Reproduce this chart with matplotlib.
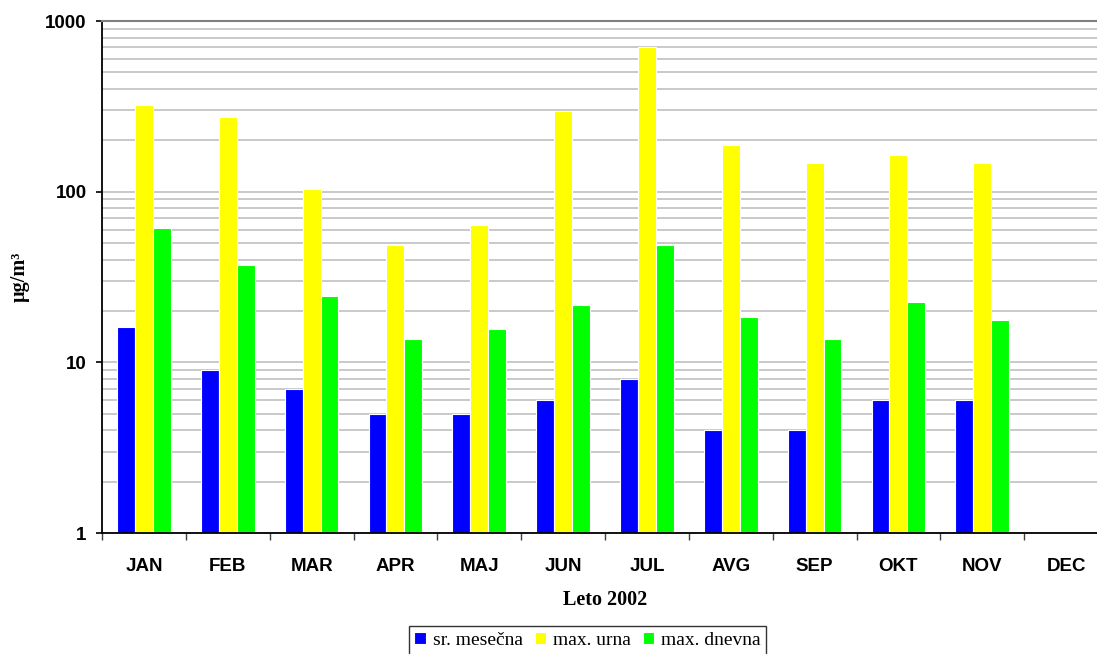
import numpy as np
import matplotlib
matplotlib.use("Agg")
import matplotlib.pyplot as plt
from matplotlib.ticker import FixedLocator, LogLocator, NullFormatter

months = ["JAN", "FEB", "MAR", "APR", "MAJ", "JUN", "JUL", "AVG", "SEP", "OKT", "NOV", "DEC"]
# DEC has no measurements
sr_mesecna = [16, 9, 7, 5, 5, 6, 8, 4, 4, 6, 6]
max_urna = [320, 275, 104, 49, 64, 296, 700, 188, 148, 163, 147]
max_dnevna = [61, 37, 24.5, 13.7, 15.7, 21.6, 49, 18.4, 13.7, 22.5, 17.7]

series = [
    ("sr. mesečna", sr_mesecna, "#0000ff"),
    ("max. urna", max_urna, "#ffff00"),
    ("max. dnevna", max_dnevna, "#00ff00"),
]

W, H = 1097, 654
fig = plt.figure(figsize=(W / 100, H / 100), dpi=100)
ax = fig.add_axes([102 / W, 1 - 533 / H, 1006 / W, 512 / H])

bar_w = 0.213
x = np.arange(len(sr_mesecna)) + 0.5
handles = []
for k, (name, vals, col) in enumerate(series):
    b = ax.bar(x + (k - 1) * bar_w, vals, width=bar_w, color=col,
               edgecolor="white", linewidth=0.8, label=name, zorder=2)
    handles.append(b)

ax.set_yscale("log")
ax.set_ylim(1, 1000)
ax.set_xlim(0, len(months))

ax.yaxis.set_major_locator(FixedLocator([1, 10, 100, 1000]))
ax.yaxis.set_major_formatter(plt.FuncFormatter(lambda v, p: f"{int(v)}"))
ax.yaxis.set_minor_locator(LogLocator(base=10, subs=np.arange(2, 10)))
ax.yaxis.set_minor_formatter(NullFormatter())
ax.grid(True, axis="y", which="both", color="#c0c0c0", linewidth=1.2, zorder=0)
ax.set_axisbelow(True)

# month labels at centers, tick marks at the boundaries
ax.set_xticks(np.arange(len(months)) + 0.5)
ax.set_xticklabels(months)
ax.set_xticks(np.arange(len(months) + 1), minor=True)
ax.tick_params(axis="x", which="major", length=0, pad=18)
ax.tick_params(axis="x", which="minor", length=5, width=1, color="#404040")
ax.tick_params(axis="y", which="major", length=4, width=1.2, pad=7)
ax.tick_params(axis="y", which="minor", length=0)

for lab in ax.get_xticklabels() + ax.get_yticklabels():
    lab.set_fontfamily("Liberation Sans")
    lab.set_fontweight("bold")
    lab.set_fontsize(13.5)

ax.spines["right"].set_visible(False)
ax.spines["top"].set_color("#808080")
ax.spines["top"].set_linewidth(1.5)
ax.spines["left"].set_linewidth(1.3)
ax.spines["bottom"].set_linewidth(1.3)

ax.set_xlabel("Leto 2002", fontfamily="Liberation Serif", fontweight="bold",
              fontsize=14.5, labelpad=11)
fig.text(20 / W, 1 - 277 / H, "µg/m³", rotation=90, ha="center", va="center",
         fontfamily="Liberation Serif", fontweight="bold", fontsize=14.5)

leg = fig.legend(handles=handles, loc="upper center",
                 bbox_to_anchor=(587.5 / W, 1 - 626 / H),
                 ncol=3, frameon=True, fancybox=False, edgecolor="black",
                 prop={"family": "Liberation Serif", "size": 14},
                 handlelength=0.6, handleheight=0.6, handletextpad=0.35,
                 columnspacing=0.6, borderpad=0.3, borderaxespad=0)
leg.get_frame().set_linewidth(1.0)

fig.savefig("out.png", dpi=100)
